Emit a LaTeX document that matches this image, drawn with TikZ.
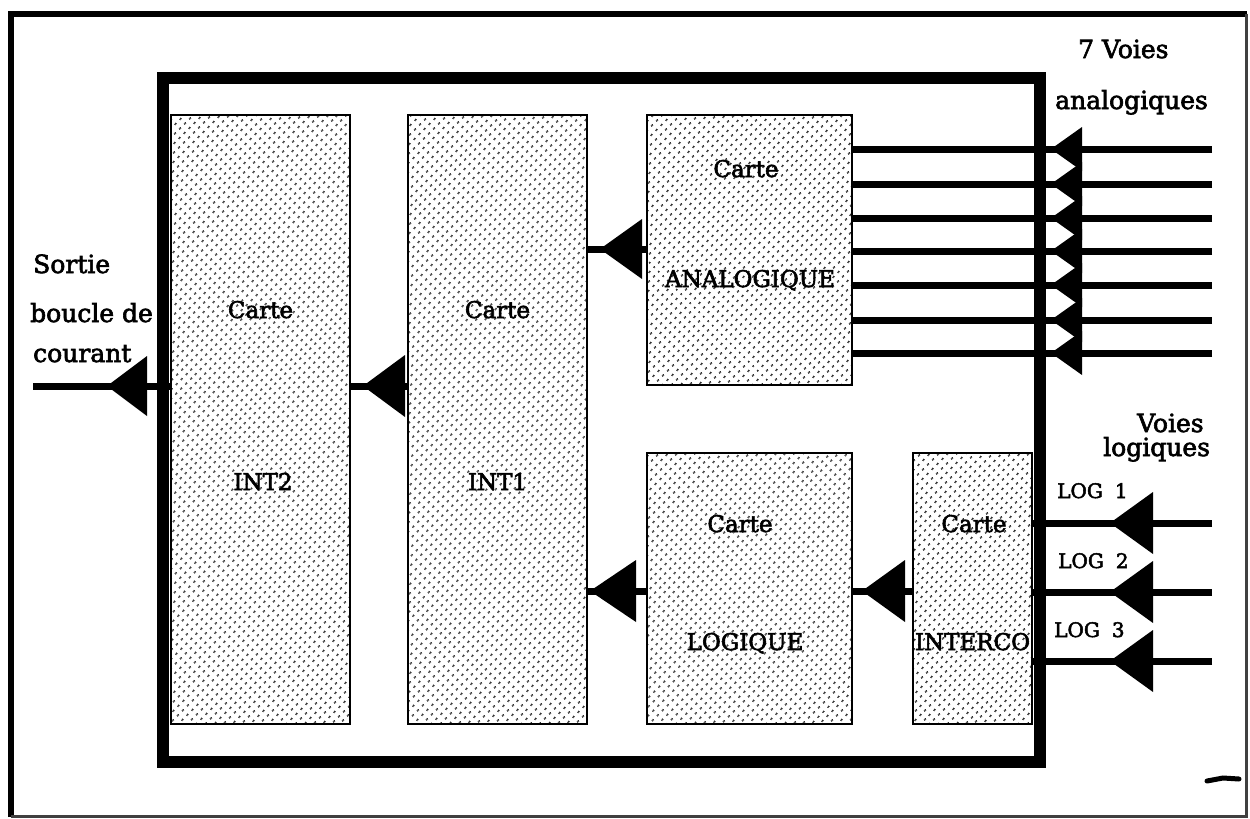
\documentclass[tikz,border=0pt]{standalone}
\usepackage{fontspec}
\setmainfont{DejaVu Serif}[FakeBold=2.5]
\usetikzlibrary{patterns.meta}
\newcommand\mytri[4]{\fill (#1,#2) -- ++(#3,#4) -- ++(0,-2*#4) -- cycle;}
\tikzset{
  card/.style={draw, line width=1.6pt, pattern={Dots[distance=6.4pt, radius=1.35pt, angle=45]}, inner sep=0pt},
  wire/.style={line width=7pt},
  frame/.style={line width=12pt},
  lab/.style={font=\fontsize{25}{30}\selectfont, inner sep=0pt, anchor=base west},
  blab/.style={font=\fontsize{23}{28}\selectfont, inner sep=0pt, anchor=base},
  loglab/.style={font=\fontsize{20}{24}\selectfont, inner sep=0pt, anchor=base west}
}
\begin{document}
\begin{tikzpicture}[x=1pt,y=-1pt]
\useasboundingbox (0,0) rectangle (1250,819);
% outer frame
\draw[line width=6pt] (10.5,817) -- (10.5,13.5) -- (1247,13.5);
\draw[line width=2.5pt, black!75] (1246.5,13.5) -- (1246.5,816.5) -- (10.5,816.5);
% inner frame
\draw[frame] (163,78) rectangle (1040,761.5);
% cards
\node[card, minimum width=179pt, minimum height=609pt] (int2) at (260.5,419.5) {};
\node[card, minimum width=179pt, minimum height=609pt] (int1) at (497.5,419.5) {};
\node[card, minimum width=205pt, minimum height=270pt] (ana) at (749.5,250) {};
\node[card, minimum width=205pt, minimum height=271pt] (log) at (749.5,588.5) {};
\node[card, minimum width=119pt, minimum height=271pt] (ico) at (972.5,588.5) {};
% card labels
\node[blab] (t2a) at (260.5,318) {Carte};
\node[blab] (t2b) at (263,490) {INT2};
\node[blab] (t1a) at (497.5,318) {Carte};
\node[blab] (t1b) at (497.5,490) {INT1};
\node[blab] (taa) at (746,177) {Carte};
\node[blab] (tab) at (750,287) {ANALOGIQUE};
\node[blab] (tla) at (740,532) {Carte};
\node[blab] (tlb) at (745,650) {LOGIQUE};
\node[blab] (tia) at (974,532) {Carte};
\node[blab] (tib) at (972.5,650) {INTERCO};
% outside labels
\node[lab] (s1) at (33,273) {Sortie};
\node[lab] (s2) at (30,322) {boucle de};
\node[lab] (s3) at (33,362) {courant};
\node[lab] (v1) at (1078,58) {7 Voies};
\node[lab] (v2) at (1055,109) {analogiques};
\node[lab] (l1) at (1137,432) {Voies};
\node[lab] (l2) at (1103,456) {logiques};
\node[loglab] (g1) at (1057,498) {LOG\hspace{0.6em}1};
\node[loglab] (g2) at (1058,568) {LOG\hspace{0.6em}2};
\node[loglab] (g3) at (1054,637) {LOG\hspace{0.6em}3};
% output
\coordinate (out) at (33,386);
\draw[wire] (int2.west |- out) -- (out);
\mytri{107}{386}{40}{30}
% INT1 -> INT2
\draw[wire] (int1.west |- out) -- (int2.east |- out);
\mytri{363}{386}{42}{31}
% ANA -> INT1
\draw[wire] (ana.west |- 0,249) -- (int1.east |- 0,249);
\mytri{600}{249}{42}{30}
% LOG -> INT1
\draw[wire] (log.west |- 0,591) -- (int1.east |- 0,591);
\mytri{590}{591}{46}{31}
% INTERCO -> LOG
\draw[wire] (ico.west |- 0,591) -- (log.east |- 0,591);
\mytri{862}{591}{43}{31}
% analog inputs
\foreach \i/\y in {1/149,2/184,3/218,4/251,5/285,6/320,7/353}{
  \coordinate (a\i) at (1212,\y);
  \draw[wire] (a\i) -- (ana.east |- a\i);
  \mytri{1051}{\y}{31}{22}
}
% logic inputs
\foreach \i/\y in {1/523,2/592,3/661}{
  \coordinate (b\i) at (1212,\y);
  \draw[wire] (b\i) -- (ico.east |- b\i);
  \mytri{1110}{\y}{43}{31}
}
% stray mark
\draw[line width=5pt, line cap=round] (1207,781) -- (1223,778) -- (1239,779);
\end{tikzpicture}
\end{document}
